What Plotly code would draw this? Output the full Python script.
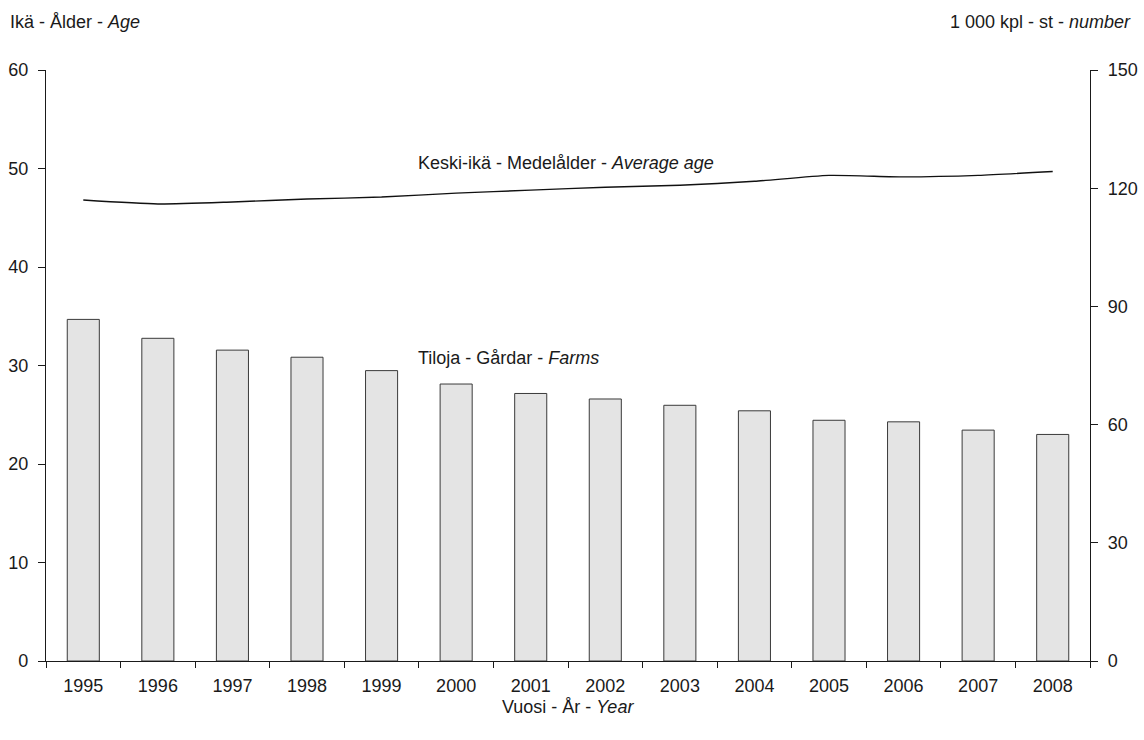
import plotly.graph_objects as go

years = ["1995", "1996", "1997", "1998", "1999", "2000", "2001",
         "2002", "2003", "2004", "2005", "2006", "2007", "2008"]
farms_thousand = [86.7, 81.9, 78.9, 77.1, 73.7, 70.3, 67.9,
                  66.5, 64.9, 63.5, 61.1, 60.7, 58.6, 57.5]
average_age = [46.8, 46.4, 46.6, 46.9, 47.1, 47.5, 47.8,
               48.1, 48.3, 48.7, 49.3, 49.15, 49.3, 49.7]

left_ticks = [0, 10, 20, 30, 40, 50, 60]
right_ticks = [0, 30, 60, 90, 120, 150]

FONT = "Liberation Sans, Arial, sans-serif"
INK = "#1a1a1a"

fig = go.Figure()
fig.add_trace(go.Bar(
    x=years, y=farms_thousand, yaxis="y2",
    width=0.43,
    marker=dict(color="#e4e4e4", line=dict(color="#3a3a3a", width=1)),
    showlegend=False,
))
fig.add_trace(go.Scatter(
    x=years, y=average_age, yaxis="y", mode="lines",
    line=dict(color="#111111", width=1.4, shape="spline", smoothing=0.6),
    showlegend=False,
))

fig.update_layout(
    width=1144, height=740,
    margin=dict(l=46, r=54, t=70, b=79),
    paper_bgcolor="white", plot_bgcolor="white",
    font=dict(family=FONT, size=18, color=INK),
    xaxis=dict(
        type="category", showgrid=False, zeroline=False, automargin=False,
        showline=True, linecolor=INK, linewidth=1.2,
        ticks="outside", tickson="boundaries", ticklen=6, tickcolor=INK,
        ticklabelstandoff=8,
        tickfont=dict(size=18, color=INK), range=[-0.5, 13.5],
    ),
    yaxis=dict(
        range=[0, 60], tickvals=left_ticks, showgrid=False, zeroline=False,
        automargin=False,
        showline=True, linecolor=INK, linewidth=1.2,
        ticks="outside", ticklen=7, tickcolor=INK, ticklabelstandoff=6,
        tickfont=dict(size=18, color=INK),
    ),
    yaxis2=dict(
        range=[0, 150], tickvals=right_ticks, overlaying="y", side="right",
        showgrid=False, zeroline=False, automargin=False,
        showline=True, linecolor=INK, linewidth=1.2,
        ticks="outside", ticklen=7, tickcolor=INK, ticklabelstandoff=6,
        tickfont=dict(size=18, color=INK),
    ),
    bargap=0.5,
)

anns = [
    dict(text="Ikä - Ålder - <i>Age</i>", xref="paper", yref="paper",
         x=-0.0364, y=1.081, xanchor="left", yanchor="middle"),
    dict(text="1 000 kpl - st - <i>number</i>", xref="paper", yref="paper",
         x=1.0412, y=1.081, xanchor="right", yanchor="middle"),
    dict(text="Vuosi - År - <i>Year</i>", xref="paper", yref="paper",
         x=0.5, y=-0.0778, xanchor="center", yanchor="middle"),
    dict(text="Keski-ikä - Medelålder - <i>Average age</i>", xref="x", yref="y",
         x=4.46, y=50.6, xanchor="left", yanchor="middle"),
    dict(text="Tiloja - Gårdar - <i>Farms</i>", xref="x", yref="y",
         x=4.46, y=30.8, xanchor="left", yanchor="middle"),
]
for a in anns:
    a.update(showarrow=False, font=dict(family=FONT, size=18, color=INK))
    fig.add_annotation(**a)

fig.write_html("out.html", config={"displayModeBar": False},
               post_script="document.body.style.margin='0';")
